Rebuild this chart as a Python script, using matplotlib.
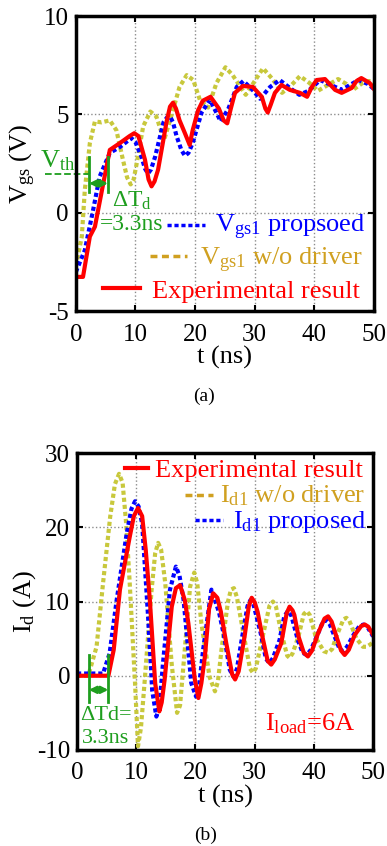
import matplotlib
matplotlib.use("Agg")
import matplotlib.pyplot as plt

plt.rcParams["font.family"] = ["Liberation Serif", "DejaVu Serif"]
plt.rcParams["mathtext.fontset"] = "custom"
plt.rcParams["mathtext.rm"] = "Liberation Serif"
plt.rcParams["mathtext.it"] = "Liberation Serif:italic"
plt.rcParams["axes.unicode_minus"] = False

RED = "#FF0000"
BLUE = "#0000FF"
YEL = "#C8C83C"
GOLD = "#D0A020"
GREEN = "#1E9E1E"

# ---- (a) gate-source voltage ----
t_r1 = [0, 1.2, 2.35, 3.2, 4.6, 5.7, 7.4, 9.0, 9.8, 10.5, 11.6, 12.2, 12.7, 13.2, 13.8, 15.2,
        15.8, 16.3, 16.8, 17.4, 18.3, 19.1, 19.6, 20.5, 21.3, 22.6, 24.0, 24.8, 25.4, 26.0,
        26.7, 28.0, 29.7, 31.2, 31.8, 32.2, 32.7, 33.4, 34.5, 35.9, 37.6, 38.8, 39.6, 40.4,
        41.8, 43.5, 44.6, 46.3, 47.1, 47.9, 49.3, 50]
v_r1 = [-3.25, -3.25, -1.2, -0.7, 1.5, 3.2, 3.55, 3.9, 4.05, 3.9, 2.7, 1.7, 1.35, 1.6, 2.2, 4.6,
        5.4, 5.6, 5.3, 4.7, 4.05, 3.45, 4.2, 5.2, 5.7, 5.9, 5.3, 4.7, 4.55, 5.3,
        6.1, 6.45, 6.4, 5.9, 5.3, 5.1, 5.5, 6.1, 6.5, 6.25, 6.1, 5.9, 6.4, 6.75,
        6.8, 6.25, 6.1, 6.35, 6.7, 6.85, 6.6, 6.3]

t_b1 = [0, 1.5, 2.9, 4.0, 5.7, 7.4, 9.3, 10.0, 11.0, 11.6, 12.1, 12.6, 13.3, 14.7, 15.3, 15.8,
        16.3, 16.9, 17.7, 18.3, 18.9, 19.6, 21.1, 22.5, 23.4, 24.3, 25.6, 27.0, 28.1, 29.5,
        30.9, 32.6, 34.2, 35.9, 37.5, 39.0, 41.0, 42.8, 44.6, 46.0, 47.4, 49.0, 50]
v_b1 = [-3.0, -1.9, 0.15, 1.85, 3.05, 3.35, 3.8, 3.6, 2.85, 2.25, 2.0, 2.2, 2.85, 4.6, 4.85, 4.9,
        4.6, 3.9, 3.2, 2.9, 3.05, 3.55, 5.1, 5.75, 5.2, 4.65, 5.3, 6.4, 6.7, 6.3,
        5.8, 6.4, 6.75, 6.35, 6.0, 6.2, 6.75, 6.5, 6.25, 6.5, 6.75, 6.55, 6.3]

t_y1 = [0, 1.0, 1.5, 2.35, 3.2, 4.3, 5.7, 6.8, 7.9, 8.6, 9.2, 9.7, 10.2, 11.3, 12.5, 13.5,
        14.8, 15.8, 17.4, 18.6, 19.7, 20.8, 22.2, 23.6, 25.1, 26.3, 28.5, 29.8, 31.4, 33.0,
        34.6, 36.2, 37.6, 39.2, 40.6, 42.3, 44.0, 45.4, 46.5, 48.1, 49.2, 50]
v_y1 = [-2.7, -1.2, 1.15, 3.55, 4.65, 4.6, 4.7, 4.2, 2.7, 1.8, 1.45, 1.7, 2.5, 4.4, 5.15, 4.9,
        3.7, 4.7, 6.4, 7.0, 6.75, 5.75, 5.35, 6.6, 7.4, 7.0, 6.0, 6.6, 7.35, 6.8,
        6.1, 6.5, 6.95, 6.6, 6.2, 6.5, 6.8, 6.55, 6.25, 6.6, 6.7, 6.55]

# ---- (b) drain current ----
t_r2 = [0, 5.3, 6.2, 7.25, 8.9, 9.6, 10.3, 11.0, 11.6, 12.3, 13.2, 13.9, 14.3, 14.8, 16.0, 16.7,
        17.4, 18.2, 18.8, 19.9, 20.5, 21.0, 21.6, 22.3, 23.0, 23.7, 24.3, 25.2, 26.2, 26.7,
        27.3, 28.3, 29.0, 29.5, 30.0, 30.5, 31.3, 32.2, 32.8, 33.4, 34.5, 35.4, 35.9, 36.4,
        36.7, 37.4, 38.3, 39.0, 39.7, 40.7, 41.8, 42.4, 43.0, 43.8, 44.6, 45.2, 45.9, 46.9,
        48.0, 48.6, 49.2, 50]
v_r2 = [0, 0, 3.5, 11.6, 18.7, 21.5, 22.6, 21.5, 17.0, 10.2, -1, -4.8, -3.6, -0.5, 9.3, 11.8,
        12.2, 10.2, 7.1, -0.5, -3, -1.0, 2.6, 9.0, 11.1, 10.5, 8.6, 4.4, 0.2, -0.5,
        0.6, 5.3, 9.3, 10.5, 9.9, 8.6, 5.3, 2.0, 1.5, 2.2, 4.4, 8.4, 9.3, 8.8,
        8.2, 5.3, 3.1, 2.6, 3.4, 5.7, 7.7, 8.0, 7.3, 5.3, 3.4, 2.8, 3.5, 5.5,
        6.7, 6.9, 6.6, 5.5]

t_b2 = [0, 4.4, 5.5, 6.7, 8.4, 9.2, 9.8, 10.4, 11.0, 12.0, 12.7, 13.4, 13.9, 14.5, 15.7, 16.7,
        17.3, 18.0, 19.3, 20.1, 20.6, 21.3, 22.7, 24.0, 24.8, 25.8, 26.4, 27.0, 27.8, 28.8,
        29.3, 29.8, 31.0, 31.9, 32.5, 33.1, 34.2, 35.0, 35.6, 36.2, 37.3, 38.1, 38.8, 39.5,
        40.5, 41.5, 42.1, 42.7, 43.5, 44.3, 44.9, 45.6, 46.7, 47.7, 48.4, 49.1, 50]
v_b2 = [0.3, 0.3, 3.0, 10.2, 19.2, 22.5, 23.5, 22.8, 20.5, 8, -2, -5.5, -4.2, 1.5, 11.6, 14.7,
        13.5, 10.2, -1, -2.8, -1.5, 3.5, 11.6, 8.5, 5.5, 0.8, -0.1, 0.9, 4.8, 9.4,
        10.2, 9.6, 5.8, 2.3, 1.7, 2.4, 4.8, 8.0, 8.7, 8.1, 4.8, 3.1, 2.8, 3.5,
        5.3, 7.2, 7.5, 6.9, 5.3, 3.7, 3.3, 3.9, 5.5, 6.7, 6.9, 6.5, 5.3]

t_y2 = [0, 1.9, 3.3, 4.4, 5.6, 6.4, 7.1, 7.7, 8.3, 8.9, 9.8, 10.3, 10.8, 11.4, 12.6, 13.2,
        13.7, 14.2, 14.9, 16.0, 16.9, 17.4, 18.2, 19.1, 19.8, 20.3, 21.0, 22.4, 23.3, 23.8,
        24.4, 25.5, 26.0, 26.5, 27.0, 28.2, 29.2, 29.7, 30.2, 31.5, 32.5, 33.1, 33.6, 34.5,
        35.5, 35.9, 36.4, 37.4, 38.3, 38.8, 39.3, 40.4, 41.7, 42.4, 43.1, 43.8, 45.0, 45.5,
        46.0, 47.2, 48.3, 48.9, 49.5, 50]
v_y2 = [0, 0, 3.9, 12.5, 21.4, 25.8, 27.2, 26.0, 20.5, 12.5, -1, -9.5, -7.0, -1, 11.6, 16.5,
        17.9, 17.0, 12.5, 1.5, -5, -4.0, 3.5, 12.0, 13.9, 12.5, 7.1, -0.2, -2.1, -0.8,
        3.5, 10.0, 11.6, 11.8, 10.6, 5.3, 1.0, 0.4, 1.0, 5.8, 9.4, 10, 9.3, 5.8,
        2.7, 2.4, 3.0, 5.3, 8.3, 8.7, 8.2, 5, 3.3, 3.1, 3.6, 5.3, 7.6, 7.8,
        7.4, 5, 3.9, 3.9, 4.2, 4.5]

XTICKS = [0, 10, 20, 30, 40, 50]
YTICKS_A = [-5, 0, 5, 10]
YTICKS_B = [-10, 0, 10, 20, 30]

DOT = (0, (1, 0.7))


def style(ax, yticks):
    ax.set_xlim(0, 50)
    ax.set_xticks(XTICKS)
    ax.set_yticks(yticks)
    ax.set_ylim(yticks[0], yticks[-1])
    ax.grid(True, ls=":", color="#8c8c8c", lw=1.0)
    ax.tick_params(direction="in", length=4, width=1.5, top=True, right=True,
                   labelsize=18)
    ax.tick_params(axis="x", pad=9)
    ax.tick_params(axis="y", pad=5)
    for s in ax.spines.values():
        s.set_linewidth(2.5)
    ax.set_xlabel("t (ns)", fontsize=19, labelpad=0)


fig = plt.figure(figsize=(3.87, 8.46), dpi=100)

# ---------------- (a) ----------------
ax1 = fig.add_axes([0.196, 0.632, 0.770, 0.349])
ax1.plot(t_y1, v_y1, color=YEL, lw=3, ls=DOT)
ax1.plot(t_b1, v_b1, color=BLUE, lw=3, ls=DOT)
ax1.plot(t_r1, v_r1, color=RED, lw=3)
style(ax1, YTICKS_A)
ax1.set_ylabel(r"V$_\mathrm{gs}$ (V)", fontsize=19)
ax1.yaxis.set_label_coords(-0.128, 0.5)

# legend drawn by hand (no frame, coloured labels)
ax1.plot([15.3, 21.6], [-0.6, -0.6], color=BLUE, lw=2.5, ls=(0, (1.2, 0.8)))
ax1.text(23.3, -1.0, r"V$_\mathrm{gs1}$ propsoed", color=BLUE, fontsize=19, va="baseline")
ax1.plot([12.4, 18.6], [-2.2, -2.2], color=GOLD, lw=2.5, ls=(0, (2, 1.3)))
ax1.text(20.8, -2.65, r"V$_\mathrm{gs1}$ w/o driver", color=GOLD, fontsize=19, va="baseline")
ax1.plot([4.5, 10.7], [-3.8, -3.8], color=RED, lw=3)
ax1.text(12.75, -4.3, "Experimental result", color=RED, fontsize=19, va="baseline")

# threshold / delay annotation
ax1.plot([-5.2, 2.2], [2.0, 2.0], color=GREEN, lw=1.3, ls="--", clip_on=False)
ax1.text(-6.0, 2.3, r"V$_\mathrm{th}$", color=GREEN, fontsize=19, va="baseline",
         clip_on=False)
for tx in (2.2, 5.4):
    ax1.plot([tx, tx], [1.07, 2.85], color=GREEN, lw=2)
ax1.annotate("", xy=(2.2, 1.5), xytext=(5.4, 1.5),
             arrowprops=dict(arrowstyle="<|-|>", color=GREEN, lw=2, mutation_scale=10,
                             shrinkA=0, shrinkB=0))
ax1.text(6.0, 0.3, r"ΔT$_\mathrm{d}$", color=GREEN, fontsize=17, va="baseline")
ax1.text(4.0, -0.86, "=3.3ns", color=GREEN, fontsize=17, va="baseline")

fig.text(0.527, 1 - 396 / 846, "(a)", fontsize=14, ha="center", va="center")

# ---------------- (b) ----------------
ax2 = fig.add_axes([0.199, 0.1135, 0.765, 0.351])
ax2.plot(t_y2, v_y2, color=YEL, lw=3, ls=DOT)
ax2.plot(t_b2, v_b2, color=BLUE, lw=3, ls=DOT)
ax2.plot(t_r2, v_r2, color=RED, lw=3)
style(ax2, YTICKS_B)
ax2.set_ylabel(r"I$_\mathrm{d}$ (A)", fontsize=19)
ax2.yaxis.set_label_coords(-0.132, 0.5)

ax2.plot([8.1, 12.0], [28.0, 28.0], color=RED, lw=3)
ax2.text(13.15, 26.8, "Experimental result", color=RED, fontsize=19, va="baseline")
ax2.plot([18.2, 22.9], [24.4, 24.4], color=GOLD, lw=2.5, ls=(0, (2, 1.3)))
ax2.text(24.1, 23.4, r"I$_\mathrm{d1}$ w/o driver", color=GOLD, fontsize=19, va="baseline")
ax2.plot([19.9, 24.6], [21.0, 21.0], color=BLUE, lw=2.5, ls=(0, (1.2, 0.8)))
ax2.text(26.3, 19.9, r"I$_\mathrm{d1}$ proposed", color=BLUE, fontsize=19, va="baseline")

for tx in (2.0, 5.3):
    ax2.plot([tx, tx], [-3.5, 2.8], color=GREEN, lw=2)
ax2.annotate("", xy=(2.0, -1.9), xytext=(5.3, -1.9),
             arrowprops=dict(arrowstyle="<|-|>", color=GREEN, lw=2, mutation_scale=10,
                             shrinkA=0, shrinkB=0))
ax2.text(0.5, -5.9, "ΔTd=", color=GREEN, fontsize=16, va="baseline")
ax2.text(0.85, -9.0, "3.3ns", color=GREEN, fontsize=16, va="baseline")
ax2.text(31.7, -7.3, r"I$_\mathrm{load}$=6A", color=RED, fontsize=19, va="baseline")

fig.text(0.53, 1 - 835 / 846, "(b)", fontsize=14, ha="center", va="center")

fig.savefig("out.png", dpi=100, facecolor="white")
